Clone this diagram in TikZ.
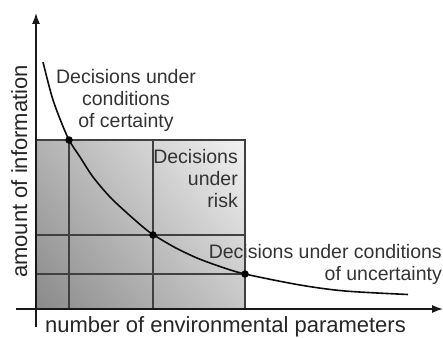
\documentclass[tikz,border=0pt]{standalone}
\usepackage{fontspec}
\setmainfont{Liberation Sans}
\usetikzlibrary{arrows.meta,shadings}
\begin{document}
\begin{tikzpicture}[x=1pt,y=-1pt,
  gridline/.style={draw=black!75, line width=1.3pt},
  axisline/.style={draw=black!90, line width=1.4pt, -{Latex[length=11pt,width=8pt]}},
  curveline/.style={draw=black!95, line width=1.6pt},
  dot/.style={circle, fill=black, inner sep=0pt, minimum size=7.5pt},
  lbl/.style={font=\fontsize{19.5}{22}\selectfont, text=black!80, inner sep=0pt},
  axlbl/.style={font=\fontsize{22}{26}\selectfont, text=black!85, inner sep=0pt}]
\useasboundingbox (0,0) rectangle (443,337);
% key points
\coordinate (O) at (36,309);
\coordinate (RT) at (245,140);
\coordinate (ytop) at (36,13);
\coordinate (ybot) at (36,327);
\coordinate (xleft) at (16,309);
\coordinate (xright) at (443,309);
% shaded region
\shade[upper left=black!30, upper right=black!5, lower left=black!46, lower right=black!22]
  (O) rectangle (RT);
% labels (anchored at the baseline of their last line)
\node[lbl, align=center, anchor=base] (cert) at (126,127)
  {Decisions under\\conditions\\of certainty};
\node[lbl, align=right, anchor=base east] (risk) at (238,207)
  {Decisions\\under\\risk};
\node[lbl, align=right, anchor=base east] (unc) at (442,280)
  {Decisions under conditions\\of uncertainty};
% dots positions
\coordinate (p1) at (69,140);
\coordinate (p2) at (153,235);
\coordinate (p3) at (245,274);
% grid
\draw[gridline] (O) rectangle (RT);
\draw[gridline] (p1) -- (p1 |- O);
\draw[gridline] (p2 |- RT) -- (p2 |- O);
\draw[gridline] (O |- p2) -- (RT |- p2);
\draw[gridline] (O |- p3) -- (p3);
% curve
\draw[curveline] plot[smooth, tension=0.5] coordinates
  {(43,62) (48,82) (53,100) (60,119) (69,140) (80,157) (93,177) (110,197) (127,213) (143,227) (153,234.5) (175,247.5) (197,258) (220,266.5) (245,274) (300,285) (345,291) (408,294.5)};
% dots
\node[dot] (d1) at (p1) {};
\node[dot] (d2) at (p2) {};
\node[dot] (d3) at (p3) {};
% axes
\draw[axisline] (ybot) -- (ytop);
\draw[axisline] (xleft) -- (xright);
% axis labels
\node[axlbl, rotate=90, anchor=base] (ylab) at (27,171.5) {amount of information};
\node[axlbl, anchor=base] (xlab) at (225.5,332) {number of environmental parameters};
\end{tikzpicture}
\end{document}
